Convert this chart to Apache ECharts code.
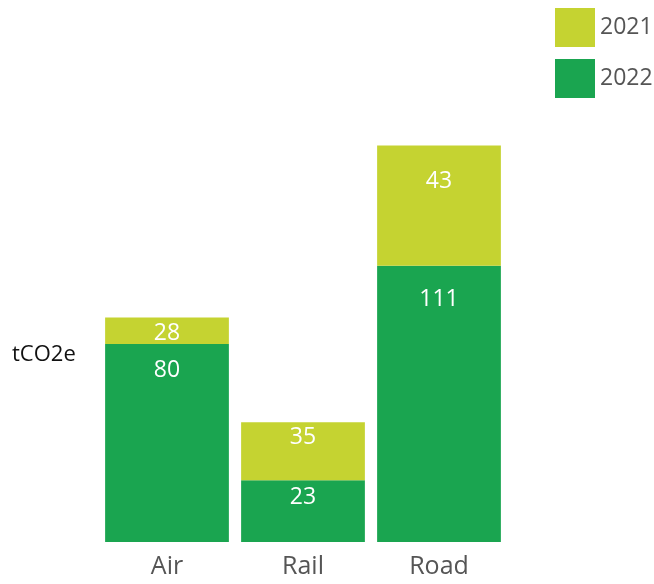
<!DOCTYPE html>
<html>
<head>
<meta charset="utf-8">
<script src="https://cdn.jsdelivr.net/npm/echarts@6/dist/echarts.min.js"></script>
<style>
  html, body { margin: 0; padding: 0; background: #fff; }
  #main { width: 654px; height: 584px; }
</style>
</head>
<body>
<div id="main"></div>
<script>
// categories + values
var modes = ['Air', 'Rail', 'Road'];
var years = ['2021', '2022'];
var bars2022 = [79.6, 24.8, 111];
var bars2021 = [10.6, 23.3, 48.3];
// the printed labels (they don't follow the bar heights exactly)
var text2022 = ['80', '23', '111'];
var text2021 = ['28', '35', '43'];
// where the label sits below the top of each segment, px
var inset2022 = [15, 6, 22];
var inset2021 = [4, 4, 24];

var myChart = echarts.init(document.getElementById('main'));

function items(vals, texts, insets) {
    var out = [];
    for (var i = 0; i < vals.length; i++) {
        out.push({
            value: vals[i],
            label: { distance: insets[i], formatter: texts[i] }
        });
    }
    return out;
}

var lbl = {
    show: true,
    position: 'insideTop',
    color: '#fff',
    fontSize: 23,
    fontWeight: 500,
    fontFamily: 'Open Sans'
};

var option = {
    backgroundColor: '#fff',
    animation: false,
    grid: { left: 99, right: 147, top: 119, bottom: 42 },
    legend: {
        data: years,
        orient: 'vertical',
        left: 550,
        top: 3,
        itemWidth: 40,
        itemHeight: 39,
        itemGap: 12,
        icon: 'rect',
        textStyle: { color: '#555', fontSize: 23, fontFamily: 'Open Sans', padding: [0, 0, 0, 0] }
    },
    xAxis: {
        type: 'category',
        data: modes,
        axisLine: { show: false },
        axisTick: { show: false },
        axisLabel: { color: '#555', fontSize: 25, fontFamily: 'Open Sans', margin: 12 }
    },
    yAxis: {
        type: 'value',
        min: 0,
        max: 170,
        show: false
    },
    graphic: [{
        type: 'text',
        left: 12,
        top: 344,
        style: { text: 'tCO2e', fill: '#111', font: '22px "Open Sans"' }
    }],
    series: [{
        name: '2022',
        type: 'bar',
        stack: 'total',
        barWidth: '91%',
        itemStyle: { color: '#1aa550' },
        label: lbl,
        data: items(bars2022, text2022, inset2022)
    }, {
        name: '2021',
        type: 'bar',
        stack: 'total',
        barWidth: '91%',
        itemStyle: { color: '#c5d331' },
        label: lbl,
        data: items(bars2021, text2021, inset2021)
    }]
};
myChart.setOption(option);
</script>
</body>
</html>
